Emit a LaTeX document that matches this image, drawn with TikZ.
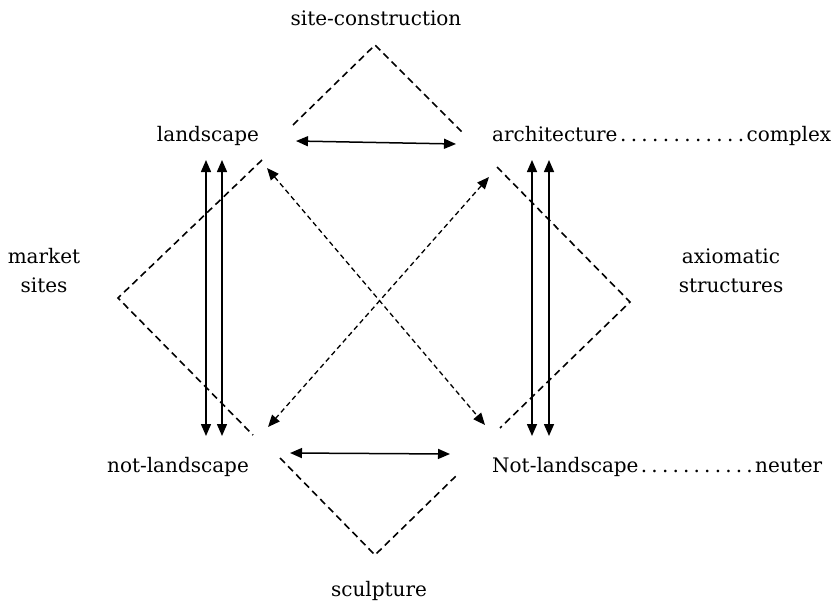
\documentclass[tikz,border=0pt]{standalone}
\usepackage{fontspec}
\setmainfont{DejaVu Serif}
\usepackage{tikz}
\usetikzlibrary{arrows.meta}
\newcommand{\dotrun}{\xleaders\hbox to 10pt{\hss.\hss}\hfill}

\begin{document}
\begin{tikzpicture}[x=1pt,y=-1pt,
  every node/.style={font=\fontsize{20}{29}\selectfont, inner sep=0pt},
  link/.style={draw, line width=1.5pt, {Triangle[length=12pt,width=10pt]}-{Triangle[length=12pt,width=10pt]}},
  cross/.style={link, line width=1.3pt, dash pattern=on 5pt off 3.5pt},
  side/.style={draw, line width=1.6pt, dash pattern=on 7pt off 4.5pt}]
\useasboundingbox (0,0) rectangle (834,604);
% the four terms and the four expanded fields
\node [anchor=base] (site) at (376,26) {site-construction};
\node [anchor=base] (land) at (208,142) {landscape};
\node [anchor=base west] (arch) at (492,142) {\makebox[339pt]{architecture\dotrun complex}};
\node [anchor=base] (notland) at (178,472) {not-landscape};
\node [anchor=base west] (notarch) at (492,472) {\makebox[330pt]{Not-landscape\dotrun neuter}};
\node [anchor=base] (sculp) at (379,596) {sculpture};
\node [anchor=base, align=center] (market) at (44,292) {market\\sites};
\node [anchor=base, align=center] (axiom) at (731,292) {axiomatic\\structures};
% arrow ends
\coordinate (lt) at (296,141); \coordinate (at) at (456,144);
\coordinate (lb) at (290,453); \coordinate (ab) at (450,454);
\coordinate (la1) at (206,160); \coordinate (lb1) at (206,436);
\coordinate (la2) at (222,160); \coordinate (lb2) at (222,436);
\coordinate (ra1) at (532,160); \coordinate (rb1) at (532,436);
\coordinate (ra2) at (549,160); \coordinate (rb2) at (549,436);
\coordinate (xa) at (267,168); \coordinate (xb) at (485,425);
\coordinate (ya) at (489,177); \coordinate (yb) at (268,427);
% solid arrows
\path [link] (lt) -- (at);
\path [link] (lb) -- (ab);
\path [link] (la1) -- (lb1);
\path [link] (la2) -- (lb2);
\path [link] (ra1) -- (rb1);
\path [link] (ra2) -- (rb2);
% contradictions
\path [cross] (xa) -- (xb);
\path [cross] (ya) -- (yb);
% dashed fields
\path [side] (293,125) -- (375,45) -- (464,134);
\path [side] (262,160) -- (118,298) -- (253,435);
\path [side] (497,167) -- (630,302) -- (500,428);
\path [side] (280,458) -- (375,555) -- (458,474);
\end{tikzpicture}
\end{document}
